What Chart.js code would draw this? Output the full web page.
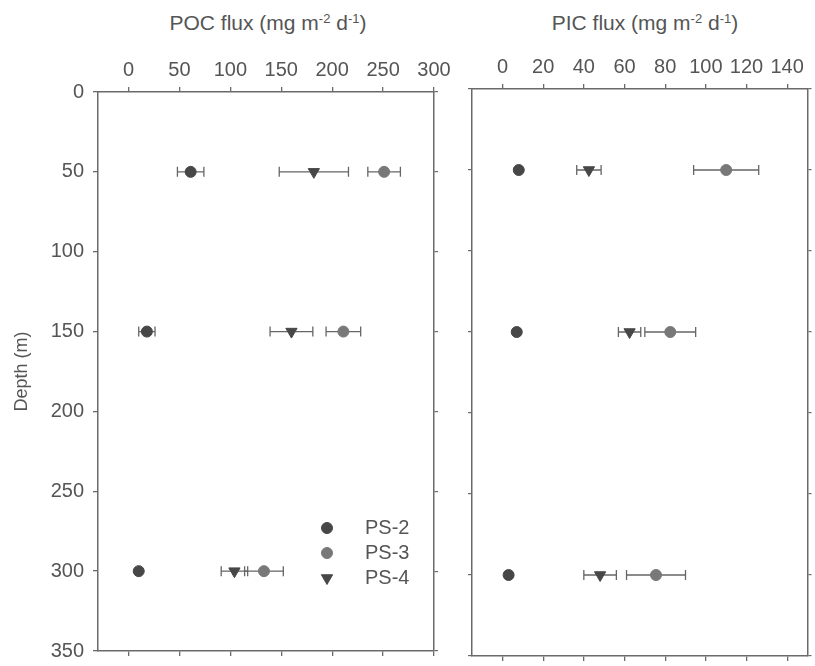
<!DOCTYPE html>
<html>
<head>
<meta charset="utf-8">
<script src="https://cdn.jsdelivr.net/npm/chart.js@4.4.0/dist/chart.umd.min.js"></script>
<style>
  body { margin: 0; background: #fff; width: 815px; height: 666px; position: relative; overflow: hidden;
         font-family: "Liberation Sans", Arial, sans-serif; }
  canvas { position: absolute; top: 0; }
  #pocCanvas { left: 0; }
  #picCanvas { left: 460px; }
  .ttl { position: absolute; top: 13px; font-size: 21px; line-height: 20px; color: #555; white-space: nowrap;
         transform: translateX(-50%); }
  .ttl sup { font-size: 13px; line-height: 0; vertical-align: 7px; }
</style>
</head>
<body>
<div class="ttl" style="left:268px">POC flux (mg m<sup>-2</sup> d<sup>-1</sup>)</div>
<div class="ttl" style="left:645px">PIC flux (mg m<sup>-2</sup> d<sup>-1</sup>)</div>
<canvas id="pocCanvas" width="470" height="666"></canvas>
<canvas id="picCanvas" width="355" height="666"></canvas>
<script>
// categories / ticks
var seriesNames = ['PS-2', 'PS-3', 'PS-4'];
var depths = [50, 150, 300];
var depthTicks = [0, 50, 100, 150, 200, 250, 300, 350];
var pocTicks = [0, 50, 100, 150, 200, 250, 300];
var picTicks = [0, 20, 40, 60, 80, 100, 120, 140];

// POC flux (mg m-2 d-1), value and error at 50, 150, 300 m
var pocPS2 = [61, 18, 10];
var pocPS2Err = [13, 8, 0];
var pocPS3 = [251, 211, 133];
var pocPS3Err = [16, 17, 19];
var pocPS4 = [182, 160, 104];
var pocPS4Err = [34, 21, 13];

// PIC flux (mg m-2 d-1)
var picPS2 = [8, 7, 3];
var picPS2Err = [0, 0, 0];
var picPS3 = [110, 82.5, 75.5];
var picPS3Err = [16, 12.5, 14.5];
var picPS4 = [42.5, 62.5, 48];
var picPS4Err = [6, 5.5, 8];

var dark = '#474747', light = '#787878', lineGrey = '#6a6a6a', textGrey = '#555';

Chart.defaults.font.family = '"Liberation Sans", Arial, sans-serif';
Chart.defaults.font.size = 20;
Chart.defaults.color = textGrey;

function pts(vals, errs) {
  return vals.map(function (v, i) { return { x: v, y: depths[i], err: errs[i] }; });
}

function makeSets(a, aErr, b, bErr, c, cErr) {
  return [
    { label: seriesNames[0], data: pts(a, aErr), backgroundColor: dark, borderColor: dark,
      pointStyle: 'circle', pointRadius: 5.5, borderWidth: 1 },
    { label: seriesNames[1], data: pts(b, bErr), backgroundColor: light, borderColor: light,
      pointStyle: 'circle', pointRadius: 5.5, borderWidth: 1 },
    { label: seriesNames[2], data: pts(c, cErr), backgroundColor: dark, borderColor: dark,
      pointStyle: 'triangle', pointRotation: 180, pointRadius: 6.5, borderWidth: 1 }
  ];
}

// horizontal error bars, drawn under the markers
var errorBars = {
  id: 'errorBars',
  beforeDatasetsDraw: function (chart) {
    var ctx = chart.ctx, xs = chart.scales.x, ys = chart.scales.y;
    ctx.save();
    ctx.strokeStyle = '#666';
    ctx.lineWidth = 1.3;
    chart.data.datasets.forEach(function (ds) {
      ds.data.forEach(function (p) {
        if (!p.err) return;
        var x0 = xs.getPixelForValue(p.x - p.err);
        var x1 = xs.getPixelForValue(p.x + p.err);
        var y = ys.getPixelForValue(p.y);
        ctx.beginPath();
        ctx.moveTo(x0, y); ctx.lineTo(x1, y);
        ctx.moveTo(x0, y - 5); ctx.lineTo(x0, y + 5);
        ctx.moveTo(x1, y - 5); ctx.lineTo(x1, y + 5);
        ctx.stroke();
      });
    });
    ctx.restore();
  }
};

// legend inside the POC panel, lower right
var insideLegend = {
  id: 'insideLegend',
  afterDatasetsDraw: function (chart) {
    var ctx = chart.ctx, area = chart.chartArea;
    ctx.save();
    ctx.font = '20px "Liberation Sans", Arial, sans-serif';
    ctx.textBaseline = 'middle';
    ctx.textAlign = 'left';
    chart.data.datasets.forEach(function (ds, i) {
      var y = area.bottom - 123 + i * 25;
      var x = area.right - 107;
      ctx.fillStyle = ds.backgroundColor;
      ctx.strokeStyle = ds.borderColor;
      ctx.lineWidth = 1;
      Chart.helpers.drawPoint(ctx, { pointStyle: ds.pointStyle, rotation: ds.pointRotation || 0,
        radius: ds.pointRadius, borderWidth: 1 }, x, y);
      ctx.fillStyle = textGrey;
      ctx.fillText(ds.label, area.right - 69, y);
    });
    ctx.restore();
  }
};

function fixTicks(list) {
  return function (s) { s.ticks = list.map(function (v) { return { value: v }; }); };
}

function buildScales(xMin, xMax, xTicks, box, showDepth) {
  var border = { display: true, color: lineGrey, width: 1.5 };
  var grid = { drawOnChartArea: false, drawTicks: true, tickLength: 5, color: lineGrey, lineWidth: 1.3 };
  var smallGrid = { drawOnChartArea: false, drawTicks: true, tickLength: 4, color: lineGrey, lineWidth: 1.2 };
  function noPad(s) { s.paddingLeft = 0; s.paddingRight = 0; s.paddingTop = 0; s.paddingBottom = 0; }
  return {
    x: {
      type: 'linear', position: 'top', min: xMin, max: xMax,
      afterBuildTicks: fixTicks(xTicks),
      grid: grid, border: border,
      ticks: { color: textGrey, padding: 5, maxRotation: 0, autoSkip: false },
      afterFit: function (s) { s.height = box.top; noPad(s); }
    },
    xBottom: {
      type: 'linear', position: 'bottom', min: xMin, max: xMax,
      afterBuildTicks: fixTicks(xTicks),
      grid: grid, border: border,
      ticks: { display: false },
      afterFit: function (s) { s.height = box.bottom; noPad(s); }
    },
    y: {
      type: 'linear', position: 'left', reverse: true, min: 0, max: 350,
      afterBuildTicks: fixTicks(depthTicks),
      grid: showDepth ? grid : smallGrid, border: border,
      ticks: { display: showDepth, color: textGrey, padding: 9 },
      title: { display: showDepth, text: 'Depth (m)', color: textGrey, font: { size: 18 }, padding: { top: 11, bottom: 0 } },
      afterFit: function (s) { s.width = box.left; noPad(s); }
    },
    yRight: {
      type: 'linear', position: 'right', reverse: true, min: 0, max: 350,
      afterBuildTicks: fixTicks(depthTicks),
      grid: smallGrid, border: border,
      ticks: { display: false },
      afterFit: function (s) { s.width = box.right; noPad(s); }
    }
  };
}

function makeChart(id, sets, scales, plugins) {
  return new Chart(document.getElementById(id).getContext('2d'), {
    type: 'scatter',
    data: { datasets: sets },
    options: {
      responsive: false,
      animation: false,
      events: [],
      layout: { padding: 0 },
      plugins: { legend: { display: false }, tooltip: { enabled: false } },
      scales: scales
    },
    plugins: plugins
  });
}

makeChart('pocCanvas',
  makeSets(pocPS2, pocPS2Err, pocPS3, pocPS3Err, pocPS4, pocPS4Err),
  buildScales(-30, 300, pocTicks, { left: 98, right: 36, top: 92, bottom: 15 }, true),
  [errorBars, insideLegend]);

makeChart('picCanvas',
  makeSets(picPS2, picPS2Err, picPS3, picPS3Err, picPS4, picPS4Err),
  buildScales(-15, 150, picTicks, { left: 12, right: 2, top: 89, bottom: 10 }, false),
  [errorBars]);
</script>
</body>
</html>
